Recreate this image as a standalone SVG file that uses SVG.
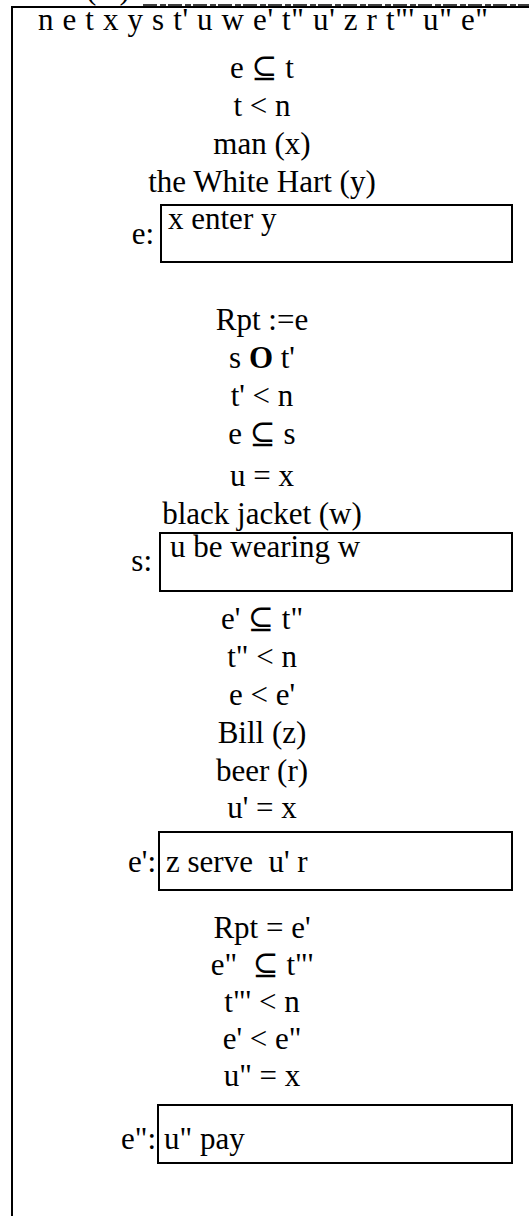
<svg xmlns="http://www.w3.org/2000/svg" width="529" height="1216" viewBox="0 0 529 1216">
  <style>
    text { font-family: "Liberation Serif", "DejaVu Serif", serif; font-size: 31px; fill: #000; }
    .c { text-anchor: middle; }
    .lbl { text-anchor: end; }
    .frame { fill: none; stroke: #000; stroke-width: 2; }
    .box { fill: #fff; stroke: #000; stroke-width: 2; }
  </style>
  <rect width="529" height="1216" fill="#fff"/>

  <!-- clipped heading fragment above the frame -->
  <text x="86" y="-1">( &#160;&#160;)</text>
  <line x1="143" y1="5" x2="529" y2="5" stroke="#000" stroke-width="1.5" stroke-dasharray="14 3 6 2"/>

  <!-- outer frame (continues past the right and bottom edges) -->
  <g id="frame">
    <path class="frame" d="M529 7 H12 V1216"/>
  </g>

  <!-- universe of discourse -->
  <g id="universe">
    <text x="38" y="30" textLength="450" lengthAdjust="spacing">n e t x y s t' u w e' t" u' z r t"' u" e"</text>
  </g>

  <!-- conditions for e -->
  <g id="conds-e">
    <text class="c" x="262" y="78">e ⊆ t</text>
    <text class="c" x="262" y="116">t &lt; n</text>
    <text class="c" x="262" y="154">man (x)</text>
    <text class="c" x="262" y="192">the White Hart (y)</text>
  </g>
  <g id="box-e">
    <rect class="box" x="161" y="205" width="351" height="57"/>
    <text x="168" y="229">x enter y</text>
    <text class="lbl" x="154" y="244">e:</text>
  </g>

  <!-- conditions for s -->
  <g id="conds-s">
    <text class="c" x="262" y="330">Rpt :=e</text>
    <text class="c" x="262" y="368">s <tspan font-weight="bold">O</tspan> t'</text>
    <text class="c" x="262" y="406">t' &lt; n</text>
    <text class="c" x="262" y="444">e ⊆ s</text>
    <text class="c" x="262" y="486">u = x</text>
    <text class="c" x="262" y="524">black jacket (w)</text>
  </g>
  <g id="box-s">
    <rect class="box" x="160" y="533" width="352" height="58"/>
    <text x="170" y="557">u be wearing w</text>
    <text class="lbl" x="152" y="571">s:</text>
  </g>

  <!-- conditions for e' -->
  <g id="conds-e1">
    <text class="c" x="262" y="629">e' ⊆ t"</text>
    <text class="c" x="262" y="667">t" &lt; n</text>
    <text class="c" x="262" y="705">e &lt; e'</text>
    <text class="c" x="262" y="743">Bill (z)</text>
    <text class="c" x="262" y="781">beer (r)</text>
    <text class="c" x="262" y="818">u' = x</text>
  </g>
  <g id="box-e1">
    <rect class="box" x="159" y="832" width="353" height="58"/>
    <text x="166" y="872" xml:space="preserve">z serve  u' r</text>
    <text class="lbl" x="156" y="872">e':</text>
  </g>

  <!-- conditions for e'' -->
  <g id="conds-e2">
    <text class="c" x="262" y="938">Rpt = e'</text>
    <text class="c" x="262" y="975" xml:space="preserve">e"  ⊆ t"'</text>
    <text class="c" x="262" y="1012">t"' &lt; n</text>
    <text class="c" x="262" y="1049">e' &lt; e"</text>
    <text class="c" x="262" y="1086">u" = x</text>
  </g>
  <g id="box-e2">
    <rect class="box" x="158" y="1105" width="354" height="58"/>
    <text x="164" y="1149">u" pay</text>
    <text class="lbl" x="156" y="1149">e":</text>
  </g>

  <!-- no connectors in this figure -->
  <g id="connectors"/>
</svg>
